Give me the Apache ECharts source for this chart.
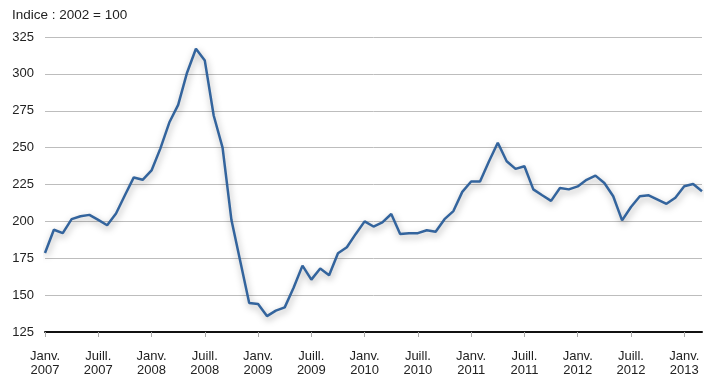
<!DOCTYPE html>
<html>
<head>
<meta charset="utf-8">
<script src="https://cdn.jsdelivr.net/npm/echarts@6/dist/echarts.min.js"></script>
<style>
html,body{margin:0;padding:0;background:#fff;}
#chart{width:720px;height:385px;}
</style>
</head>
<body>
<div id="chart"></div>
<script>
// Monthly index, Jan 2007 .. Mar 2013 (Indice : 2002 = 100)
const startYear = 2007;
const monthNames = ["Janv.","Févr.","Mars","Avr.","Mai","Juin","Juill.","Août","Sept.","Oct.","Nov.","Déc."];
const values = [
  178.6, 194.3, 192, 201.5, 203.5, 204.4, 201, 197.4, 205.3, 217.7, 229.8, 228.2,
  234.5, 249.5, 267, 279, 300.8, 317, 309, 271.8, 250, 200.9, 172.8, 144.6,
  144, 135.8, 139.5, 141.7, 155, 170, 160.5, 168, 163.5, 178.4, 182.5, 191.5,
  200, 196.5, 199.3, 205, 191.4, 192, 192, 194, 193, 201.5, 207, 220,
  227, 227, 240.6, 253.3, 240.8, 235.6, 237.4, 221.7, 217.7, 213.9, 222.6, 221.7,
  223.7, 228.2, 231, 226, 217, 200.7, 209.7, 217, 217.7, 214.8, 211.9, 216,
  223.8, 225.3, 220.4
];
const yTitle = "Indice : 2002 = 100";
const yMin = 125, yMax = 325, yStep = 25;

const categories = values.map((v, i) => monthNames[i % 12] + "\n" + (startYear + Math.floor(i / 12)));

const font = "'Liberation Sans', Arial, Helvetica, sans-serif";
const chart = echarts.init(document.getElementById('chart'), null, {renderer: 'canvas'});
chart.setOption({
  animation: false,
  backgroundColor: '#fff',
  title: {
    text: yTitle, left: 12, top: 8, padding: 0,
    textStyle: {fontFamily: font, fontSize: 13.5, fontWeight: 'normal', color: '#222'}
  },
  grid: {left: 45, right: 18, top: 37, bottom: 53, containLabel: false},
  xAxis: {
    type: 'category',
    data: categories,
    boundaryGap: false,
    axisLine: {show: true, lineStyle: {color: '#111', width: 2}},
    axisTick: {show: true, interval: 5, length: 5, lineStyle: {color: '#aaa', width: 1}},
    axisLabel: {
      interval: 5, margin: 17, lineHeight: 14,
      fontFamily: font, fontSize: 13, color: '#222'
    },
    splitLine: {show: false}
  },
  yAxis: {
    type: 'value',
    min: yMin, max: yMax, interval: yStep,
    axisLine: {show: false},
    axisTick: {show: false},
    axisLabel: {margin: 11, fontFamily: font, fontSize: 13, color: '#222'},
    splitLine: {show: true, lineStyle: {color: '#bdbdbd', width: 1}}
  },
  series: [{
    type: 'line',
    data: values,
    symbol: 'none',
    smooth: false,
    lineStyle: {
      color: '#33649d', width: 2.5,
      shadowColor: 'rgba(0,0,0,0.35)', shadowBlur: 7, shadowOffsetY: 3, shadowOffsetX: 1
    },
    z: 3
  }]
});
</script>
</body>
</html>
